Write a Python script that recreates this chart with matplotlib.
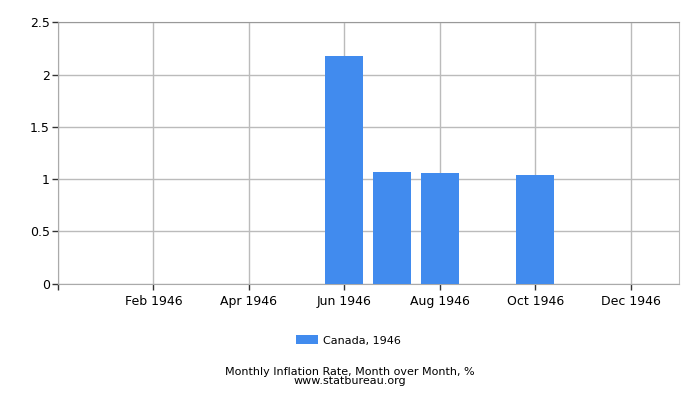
import matplotlib
matplotlib.use("Agg")
import matplotlib.pyplot as plt

# month index: Jan=1 ... Dec=12
months = [1, 2, 3, 4, 5, 6, 7, 8, 9, 10, 11, 12]
values = [0, 0, 0, 0, 0, 2.18, 1.07, 1.06, 0, 1.04, 0, 0]
tick_pos = [0, 2, 4, 6, 8, 10, 12]
tick_labels = ["", "Feb 1946", "Apr 1946", "Jun 1946", "Aug 1946", "Oct 1946", "Dec 1946"]
y_ticks = [0, 0.5, 1, 1.5, 2, 2.5]
y_labels = ["0", "0.5", "1", "1.5", "2", "2.5"]

fig = plt.figure(figsize=(7, 4), dpi=100)
ax = fig.add_axes([0.0829, 0.291, 0.8864, 0.653])

ax.bar(months, values, width=0.8, color="#418bee", label="Canada, 1946", zorder=3)

ax.set_xlim(0, 13)
ax.set_ylim(0, 2.5)
ax.set_xticks(tick_pos)
ax.set_xticklabels(tick_labels, fontsize=9)
ax.set_yticks(y_ticks)
ax.set_yticklabels(y_labels, fontsize=9)
ax.tick_params(axis="both", direction="out", length=4, width=1, color="#333333", pad=2)
ax.tick_params(axis="x", pad=4)

ax.grid(True, color="#bbbbbb", linewidth=1, zorder=0)
for side in ["left", "bottom"]:
    ax.spines[side].set_color("#aaaaaa")
ax.spines["top"].set_color("#999999")
ax.spines["right"].set_color("#bbbbbb")

ax.legend(loc="center", bbox_to_anchor=(0.468, -0.218), frameon=False, fontsize=8,
          handlelength=2.0, handleheight=0.8, handletextpad=0.4)

fig.text(0.5, 0.059, "Monthly Inflation Rate, Month over Month, %\nwww.statbureau.org",
         ha="center", va="center", fontsize=8, linespacing=0.95)

fig.savefig("out.png", dpi=100)
